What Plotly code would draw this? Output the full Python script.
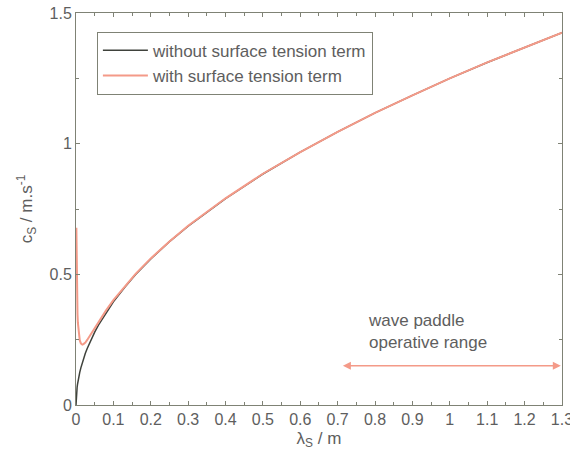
import plotly.graph_objects as go

# Wavelength of the surface wave (m)
lam = [0.0, 0.001, 0.0015, 0.002, 0.003, 0.004, 0.005, 0.006, 0.008, 0.01,
       0.013, 0.017, 0.02, 0.025, 0.03, 0.04, 0.05, 0.06, 0.08, 0.1,
       0.13, 0.16, 0.2, 0.25, 0.3, 0.4, 0.5, 0.6, 0.7, 0.8,
       0.9, 1.0, 1.1, 1.2, 1.3]

# Phase speed without the surface tension term (m/s)
c_without = [0.0, 0.040, 0.048, 0.056, 0.068, 0.079, 0.088, 0.097, 0.112, 0.125,
             0.142, 0.163, 0.177, 0.198, 0.216, 0.250, 0.279, 0.306, 0.353, 0.395,
             0.450, 0.500, 0.559, 0.625, 0.684, 0.790, 0.884, 0.968, 1.045, 1.118,
             1.185, 1.250, 1.311, 1.369, 1.425]

# Phase speed with the surface tension term (m/s), from lam[1] onwards
c_with = [0.678, 0.554, 0.481, 0.396, 0.347, 0.315, 0.293, 0.264, 0.248,
          0.236, 0.231, 0.233, 0.239, 0.249, 0.272, 0.295, 0.318, 0.361, 0.401,
          0.454, 0.503, 0.561, 0.626, 0.686, 0.791, 0.885, 0.968, 1.045, 1.118,
          1.185, 1.250, 1.311, 1.369, 1.425]

# Operating range of the wave paddle (m)
paddle_range = [0.71, 1.3]

x_ticks = [0, 0.1, 0.2, 0.3, 0.4, 0.5, 0.6, 0.7, 0.8, 0.9, 1.0, 1.1, 1.2, 1.3]
x_labels = ["0", "0.1", "0.2", "0.3", "0.4", "0.5", "0.6", "0.7", "0.8", "0.9",
            "1", "1.1", "1.2", "1.3"]
y_ticks = [0, 0.5, 1.0, 1.5]
y_labels = ["0", "0.5", "1", "1.5"]

TEXT = "#5e5e5e"
FRAME = "#7f8275"
RED = "#f49a88"
BLACK = "#3f423c"
FONT = "Liberation Sans, Arial, sans-serif"
FS = 16

fig = go.Figure()
fig.add_trace(go.Scatter(x=lam, y=c_without, mode="lines",
                         line=dict(color=BLACK, width=1.5),
                         name="without surface tension term"))
fig.add_trace(go.Scatter(x=lam[1:], y=c_with, mode="lines",
                         line=dict(color=RED, width=2),
                         name="with surface tension term"))

# Double-headed arrow marking the paddle's operative range
fig.add_annotation(x=paddle_range[1] - 0.003, y=0.15, ax=paddle_range[0], ay=0.15,
                   xref="x", yref="y", axref="x", ayref="y", text="",
                   showarrow=True, arrowhead=2, arrowside="end+start",
                   arrowsize=1, arrowwidth=1.6, arrowcolor=RED)
fig.add_annotation(x=0.775, y=0.28, xref="x", yref="y",
                   text="wave paddle<br>operative range", showarrow=False,
                   xanchor="left", yanchor="middle", align="left",
                   font=dict(size=17, color=TEXT, family=FONT))

axis_common = dict(showline=True, linecolor=FRAME, linewidth=1, mirror="ticks",
                   ticks="inside", ticklen=4, tickcolor=FRAME, showgrid=False,
                   zeroline=False, ticklabeloverflow="allow", automargin=False,
                   tickfont=dict(size=FS, color=TEXT, family=FONT))

fig.update_xaxes(range=[0, 1.3002], tickvals=x_ticks, ticktext=x_labels,
                 minor=dict(dtick=0.05, tick0=0, ticks="inside", ticklen=3,
                            tickcolor=FRAME),
                 title=dict(text="λ<sub>S</sub> / m", standoff=4,
                            font=dict(size=17, color=TEXT, family=FONT)),
                 **axis_common)
fig.update_yaxes(range=[0, 1.5002], tickvals=y_ticks, ticktext=y_labels,
                 minor=dict(dtick=0.25, tick0=0, ticks="inside", ticklen=3,
                            tickcolor=FRAME),
                 title=dict(text="c<sub>S</sub> / m.s<sup>-1</sup>", standoff=12,
                            font=dict(size=17, color=TEXT, family=FONT)),
                 **axis_common)

fig.update_layout(
    width=570, height=458,
    margin=dict(l=76, r=8, t=13, b=53, autoexpand=False),
    paper_bgcolor="white", plot_bgcolor="white",
    font=dict(family=FONT, color=TEXT),
    legend=dict(x=0.043, y=0.952, xanchor="left", yanchor="top",
                bordercolor=FRAME, borderwidth=1, bgcolor="white",
                font=dict(size=17, color=TEXT, family=FONT),
                tracegroupgap=0, itemwidth=45),
    showlegend=True,
)

fig.write_html("out.html")
